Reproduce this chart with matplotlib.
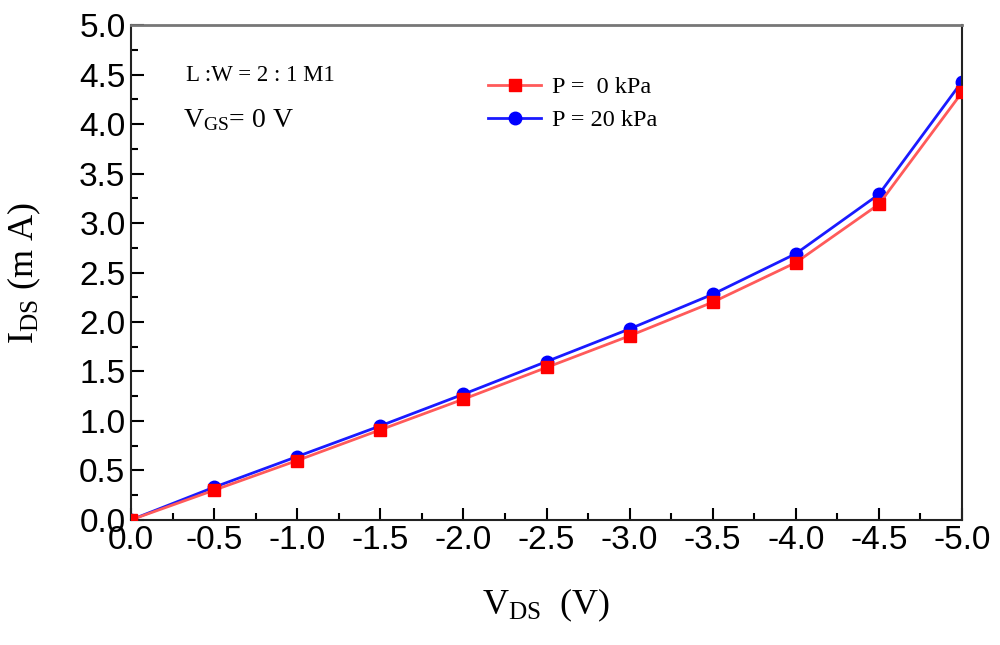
import matplotlib
matplotlib.use('Agg')
import matplotlib.pyplot as plt
from matplotlib.ticker import MultipleLocator, FormatStrFormatter

plt.rcParams['axes.unicode_minus'] = False
plt.rcParams['mathtext.fontset'] = 'custom'
plt.rcParams['mathtext.rm'] = 'Liberation Serif'
plt.rcParams['mathtext.it'] = 'Liberation Serif:italic'

vds = [0.0, -0.5, -1.0, -1.5, -2.0, -2.5, -3.0, -3.5, -4.0, -4.5, -5.0]
ids_0kpa = [0.0, 0.30, 0.60, 0.91, 1.22, 1.54, 1.86, 2.20, 2.60, 3.19, 4.32]
ids_20kpa = [0.0, 0.33, 0.64, 0.95, 1.27, 1.60, 1.93, 2.28, 2.69, 3.29, 4.43]

fig = plt.figure(figsize=(10, 6.45), dpi=100)
ax = fig.add_axes([0.131, 0.194, 0.831, 0.767])

ax.plot(vds, ids_0kpa, color='#ff5a5a', lw=2, marker='s', ms=9,
        mfc='red', mec='red', label='P =  0 kPa', zorder=3)
ax.plot(vds, ids_20kpa, color='#1a1aff', lw=2, marker='o', ms=9,
        mfc='blue', mec='blue', label='P = 20 kPa', zorder=2)

ax.set_xlim(0, -5.0)
ax.set_ylim(0, 5.0)
ax.xaxis.set_major_locator(MultipleLocator(0.5))
ax.xaxis.set_minor_locator(MultipleLocator(0.25))
ax.yaxis.set_major_locator(MultipleLocator(0.5))
ax.yaxis.set_minor_locator(MultipleLocator(0.25))
ax.xaxis.set_major_formatter(FormatStrFormatter('%.1f'))
ax.yaxis.set_major_formatter(FormatStrFormatter('%.1f'))

ax.tick_params(which='both', direction='in', top=False, right=False, width=1.5)
ax.tick_params(which='major', length=9, pad=4)
ax.tick_params(which='minor', length=5)
for lab in ax.get_xticklabels() + ax.get_yticklabels():
    lab.set_fontfamily('Liberation Sans')
    lab.set_fontsize(24)

for s in ['left', 'bottom', 'right']:
    ax.spines[s].set_linewidth(1.5)
    ax.spines[s].set_color('#222222')
ax.spines['top'].set_linewidth(2)
ax.spines['top'].set_color('#777777')

ax.set_xlabel(r'$\mathrm{V_{DS}}$  (V)', fontsize=26, family='Liberation Serif', labelpad=22)
ax.set_ylabel(r'$\mathrm{I_{DS}}$ (m A)', fontsize=26, family='Liberation Serif', labelpad=26)

ax.text(0.066, 0.888, 'L :W = 2 : 1 M1', transform=ax.transAxes,
        fontsize=16.5, family='Liberation Serif', va='baseline')
ax.text(0.062, 0.793, r'$\mathrm{V_{GS}}$= 0 V', transform=ax.transAxes,
        fontsize=20, family='Liberation Serif', va='baseline')

leg = ax.legend(loc='upper left', bbox_to_anchor=(0.488, 0.882),
                bbox_transform=fig.transFigure, frameon=False,
                borderaxespad=0, borderpad=0,
                prop={'family': 'Liberation Serif', 'size': 17.5},
                handlelength=2.2, handletextpad=0.45, labelspacing=0.45)

fig.savefig('out.png', dpi=100)
